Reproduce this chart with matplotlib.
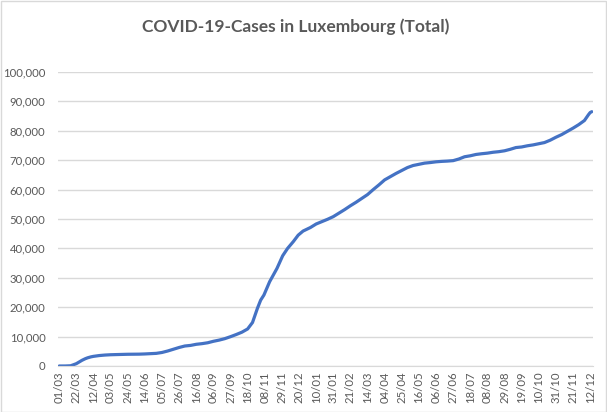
import matplotlib
matplotlib.use("Agg")
import matplotlib.pyplot as plt
import matplotlib.dates as mdates
import matplotlib.ticker as mticker
from matplotlib.patches import Rectangle
import pandas as pd

# cumulative cases
dates = [
    "2020-03-01", "2020-03-08", "2020-03-15", "2020-03-19", "2020-03-22", "2020-03-26",
    "2020-03-29", "2020-04-02", "2020-04-05", "2020-04-09", "2020-04-12", "2020-04-19",
    "2020-04-26", "2020-05-03", "2020-05-10", "2020-05-24", "2020-06-07", "2020-06-14",
    "2020-06-21", "2020-06-28", "2020-07-05", "2020-07-12", "2020-07-19", "2020-07-26",
    "2020-08-02", "2020-08-09", "2020-08-16", "2020-08-23", "2020-08-30", "2020-09-06",
    "2020-09-13", "2020-09-20", "2020-09-27", "2020-10-04", "2020-10-11", "2020-10-18",
    "2020-10-24", "2020-10-30", "2020-11-03", "2020-11-07", "2020-11-14", "2020-11-23",
    "2020-11-30", "2020-12-06", "2020-12-13", "2020-12-19", "2020-12-25", "2021-01-03",
    "2021-01-10", "2021-01-17", "2021-01-24", "2021-01-31", "2021-02-07", "2021-02-14",
    "2021-02-21", "2021-02-28", "2021-03-07", "2021-03-14", "2021-03-21", "2021-03-28",
    "2021-04-04", "2021-04-11", "2021-04-18", "2021-04-25", "2021-05-02", "2021-05-09",
    "2021-05-16", "2021-05-23", "2021-05-30", "2021-06-06", "2021-06-13", "2021-06-20",
    "2021-06-27", "2021-07-04", "2021-07-11", "2021-07-18", "2021-07-25", "2021-08-01",
    "2021-08-08", "2021-08-15", "2021-08-22", "2021-08-29", "2021-09-05", "2021-09-12",
    "2021-09-19", "2021-09-26", "2021-10-03", "2021-10-10", "2021-10-17", "2021-10-24",
    "2021-10-31", "2021-11-07", "2021-11-14", "2021-11-21", "2021-11-28", "2021-12-05",
    "2021-12-10", "2021-12-12", "2021-12-14",
]
cases = [
    0, 3, 77, 484, 798, 1453,
    1950, 2487, 2804, 3115, 3281, 3550,
    3723, 3828, 3886, 3990, 4030, 4100,
    4200, 4300, 4600, 5100, 5700, 6300,
    6800, 7000, 7380, 7600, 7900, 8400,
    8800, 9300, 9970, 10700, 11500, 12600,
    14800, 19600, 22400, 24140, 28670, 33200,
    37500, 40000, 42300, 44500, 45900, 47100,
    48300, 49100, 49900, 50800, 52000, 53200,
    54500, 55700, 57000, 58300, 60000, 61600,
    63300, 64400, 65500, 66500, 67500, 68200,
    68600, 69000, 69200, 69450, 69600, 69700,
    69850, 70400, 71170, 71500, 71950, 72200,
    72400, 72700, 72900, 73200, 73700, 74300,
    74500, 74900, 75200, 75600, 76000, 76800,
    77800, 78700, 79800, 80900, 82100, 83500,
    85500, 86200, 86500,
]

x = pd.to_datetime(dates)
start = pd.Timestamp("2020-03-01")
ticks = pd.date_range(start, "2021-12-12", freq="21D")

fig = plt.figure(figsize=(6.07, 4.12), dpi=100)
ax = fig.add_axes([58 / 607, 46 / 412, 535 / 607, 294 / 412])

ax.plot(x, cases, color="#4472C4", linewidth=2.3, solid_capstyle="round")

ax.set_ylim(0, 100000)
ax.set_xlim(start - pd.Timedelta(days=1.5), start + pd.Timedelta(days=654.5))
ax.yaxis.set_major_locator(mticker.MultipleLocator(10000))
ax.yaxis.set_major_formatter(mticker.FuncFormatter(lambda v, p: f"{int(v):,}"))
ax.set_xticks(ticks)
ax.xaxis.set_major_formatter(mdates.DateFormatter("%d/%m"))

ax.grid(axis="y", color="#d9d9d9", linewidth=1)
ax.set_axisbelow(True)
for s in ["left", "right", "top"]:
    ax.spines[s].set_visible(False)
ax.spines["bottom"].set_color("#d9d9d9")
ax.tick_params(axis="both", length=0, colors="#595959", labelsize=8.2)
ax.tick_params(axis="y", pad=9)
ax.tick_params(axis="x", pad=4)
plt.setp(ax.get_xticklabels(), rotation=90)
for lbl in ax.get_xticklabels() + ax.get_yticklabels():
    lbl.set_family("Lato")

fig.text(0.487, 0.935, "COVID-19-Cases in Luxembourg (Total)", ha="center", va="center",
         fontsize=12.5, fontweight="bold", color="#595959", family="Lato")

fig.patches.append(Rectangle((0.5 / 607, 0.5 / 412), 605.5 / 607, 410.5 / 412,
                             transform=fig.transFigure, fill=False,
                             edgecolor="#d9d9d9", linewidth=1))

fig.savefig("out.png", dpi=100)
